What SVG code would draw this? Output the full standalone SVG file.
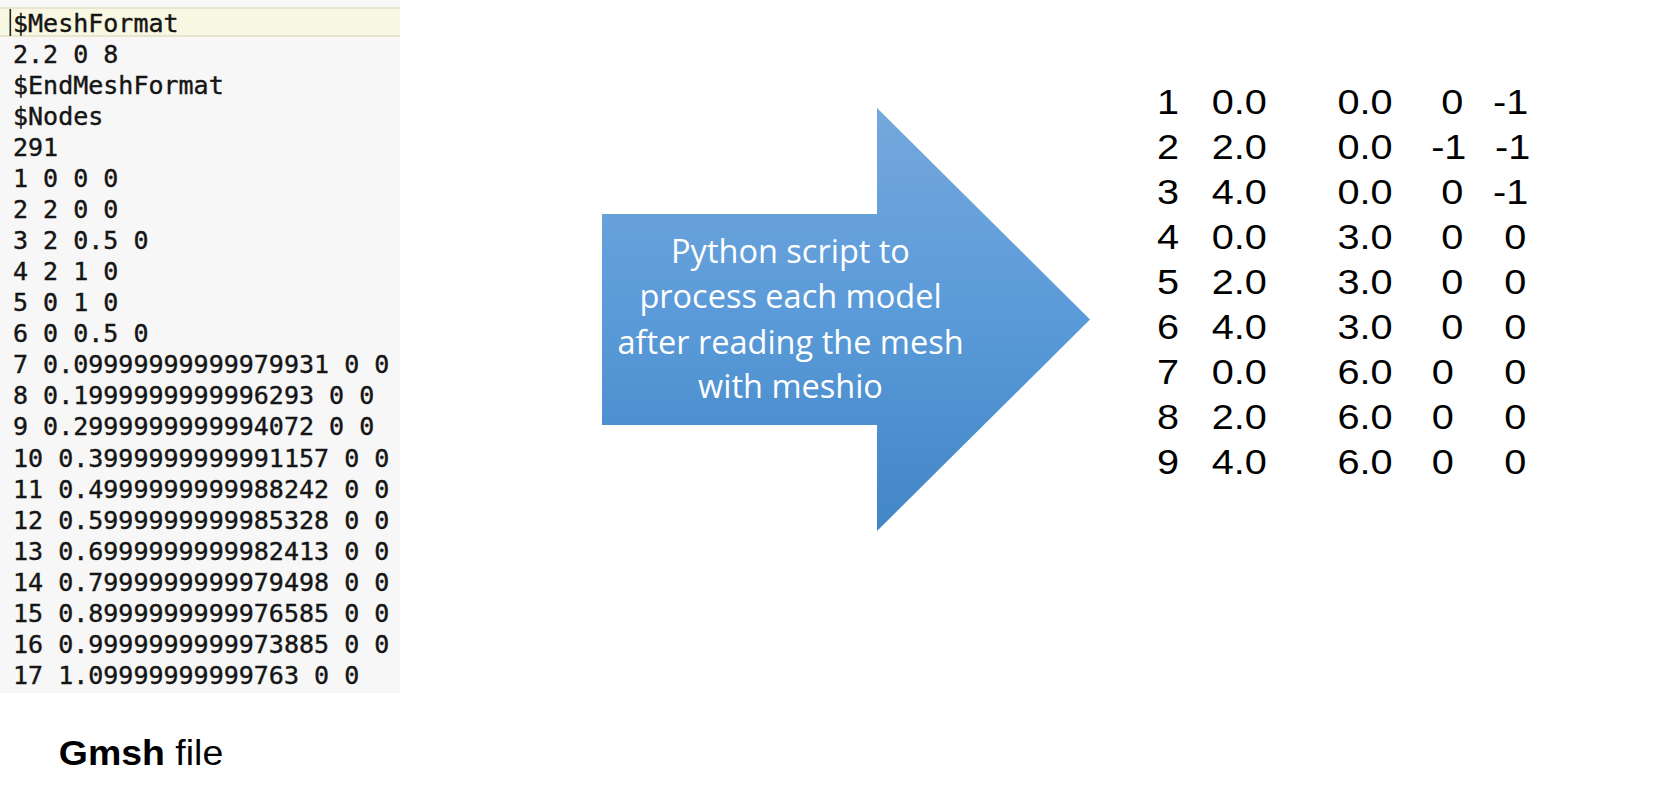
<svg xmlns="http://www.w3.org/2000/svg" width="1672" height="797" viewBox="0 0 1672 797">
  <style>
    .mono { font-family: "DejaVu Sans Mono", "Liberation Mono", monospace; font-size: 25px; fill: #151515; stroke: #151515; stroke-width: 0.4px; }
    .arrowtxt { font-family: "Open Sans", "Noto Sans", sans-serif; font-size: 32.5px; fill: #ffffff; text-anchor: middle; }
    .tbl { font-family: "Liberation Sans", Arial, sans-serif; font-size: 34.5px; fill: #000000; }
    .cap { font-family: "Liberation Sans", Arial, sans-serif; font-size: 35px; fill: #000000; }
  </style>
  <defs>
    <linearGradient id="arrowGrad" x1="0" y1="108" x2="0" y2="531" gradientUnits="userSpaceOnUse">
      <stop offset="0" stop-color="#74a8db"/>
      <stop offset="0.5" stop-color="#5a9ad9"/>
      <stop offset="1" stop-color="#4186c5"/>
    </linearGradient>
  </defs>
  <rect width="1672" height="797" fill="#ffffff"/>

  <g id="gmsh-file">
    <rect x="0" y="0" width="400" height="693" fill="#f7f7f7"/>
    <rect x="0" y="7" width="400" height="30" fill="#f8f8e2"/>
    <rect x="0" y="7" width="400" height="2" fill="#e5e5d0"/>
    <rect x="0" y="35" width="400" height="2" fill="#e5e5d0"/>
    <rect x="9.5" y="9" width="1.6" height="27" fill="#222222"/>
    <text class="mono" x="13" y="32">$MeshFormat</text>
    <text class="mono" x="13" y="63">2.2 0 8</text>
    <text class="mono" x="13" y="94">$EndMeshFormat</text>
    <text class="mono" x="13" y="125">$Nodes</text>
    <text class="mono" x="13" y="156">291</text>
    <text class="mono" x="13" y="187">1 0 0 0</text>
    <text class="mono" x="13" y="218">2 2 0 0</text>
    <text class="mono" x="13" y="249">3 2 0.5 0</text>
    <text class="mono" x="13" y="280">4 2 1 0</text>
    <text class="mono" x="13" y="311">5 0 1 0</text>
    <text class="mono" x="13" y="342">6 0 0.5 0</text>
    <text class="mono" x="13" y="373">7 0.09999999999979931 0 0</text>
    <text class="mono" x="13" y="404">8 0.1999999999996293 0 0</text>
    <text class="mono" x="13" y="435">9 0.2999999999994072 0 0</text>
    <text class="mono" x="13" y="467">10 0.3999999999991157 0 0</text>
    <text class="mono" x="13" y="498">11 0.4999999999988242 0 0</text>
    <text class="mono" x="13" y="529">12 0.5999999999985328 0 0</text>
    <text class="mono" x="13" y="560">13 0.6999999999982413 0 0</text>
    <text class="mono" x="13" y="591">14 0.7999999999979498 0 0</text>
    <text class="mono" x="13" y="622">15 0.8999999999976585 0 0</text>
    <text class="mono" x="13" y="653">16 0.9999999999973885 0 0</text>
    <text class="mono" x="13" y="684">17 1.09999999999763 0 0</text>
  </g>

  <g id="caption" transform="matrix(1.07 0 0 1 0 0)">
    <text class="cap" x="55" y="765"><tspan font-weight="bold">Gmsh</tspan> file</text>
  </g>

  <g id="process-arrow">
    <polygon points="602,214 877,214 877,108 1090,319.5 877,531 877,425 602,425" fill="url(#arrowGrad)"/>
    <text class="arrowtxt" x="790.5" y="263">Python script to</text>
    <text class="arrowtxt" x="790.5" y="308">process each model</text>
    <text class="arrowtxt" x="790.5" y="354">after reading the mesh</text>
    <text class="arrowtxt" x="790.5" y="398">with meshio</text>
  </g>

  <g id="node-table" transform="matrix(1.15 0 0 1 0 0)">
    <text class="tbl" x="1006.1" y="114.5">1</text>
    <text class="tbl" x="1006.1" y="159.5">2</text>
    <text class="tbl" x="1006.1" y="204.5">3</text>
    <text class="tbl" x="1006.1" y="249.5">4</text>
    <text class="tbl" x="1006.1" y="294.5">5</text>
    <text class="tbl" x="1006.1" y="339.5">6</text>
    <text class="tbl" x="1006.1" y="384.5">7</text>
    <text class="tbl" x="1006.1" y="429.5">8</text>
    <text class="tbl" x="1006.1" y="474.5">9</text>

    <text class="tbl" x="1053.6" y="114.5">0.0</text>
    <text class="tbl" x="1053.6" y="159.5">2.0</text>
    <text class="tbl" x="1053.6" y="204.5">4.0</text>
    <text class="tbl" x="1053.6" y="249.5">0.0</text>
    <text class="tbl" x="1053.6" y="294.5">2.0</text>
    <text class="tbl" x="1053.6" y="339.5">4.0</text>
    <text class="tbl" x="1053.6" y="384.5">0.0</text>
    <text class="tbl" x="1053.6" y="429.5">2.0</text>
    <text class="tbl" x="1053.6" y="474.5">4.0</text>

    <text class="tbl" x="1163.1" y="114.5">0.0</text>
    <text class="tbl" x="1163.1" y="159.5">0.0</text>
    <text class="tbl" x="1163.1" y="204.5">0.0</text>
    <text class="tbl" x="1163.1" y="249.5">3.0</text>
    <text class="tbl" x="1163.1" y="294.5">3.0</text>
    <text class="tbl" x="1163.1" y="339.5">3.0</text>
    <text class="tbl" x="1163.1" y="384.5">6.0</text>
    <text class="tbl" x="1163.1" y="429.5">6.0</text>
    <text class="tbl" x="1163.1" y="474.5">6.0</text>

    <text class="tbl" x="1253.3" y="114.5">0</text>
    <text class="tbl" x="1244.5" y="159.5">-1</text>
    <text class="tbl" x="1253.3" y="204.5">0</text>
    <text class="tbl" x="1253.3" y="249.5">0</text>
    <text class="tbl" x="1253.3" y="294.5">0</text>
    <text class="tbl" x="1253.3" y="339.5">0</text>
    <text class="tbl" x="1244.9" y="384.5">0</text>
    <text class="tbl" x="1244.9" y="429.5">0</text>
    <text class="tbl" x="1244.9" y="474.5">0</text>

    <text class="tbl" x="1298.3" y="114.5">-1</text>
    <text class="tbl" x="1300" y="159.5">-1</text>
    <text class="tbl" x="1298.3" y="204.5">-1</text>
    <text class="tbl" x="1308.1" y="249.5">0</text>
    <text class="tbl" x="1308.1" y="294.5">0</text>
    <text class="tbl" x="1308.1" y="339.5">0</text>
    <text class="tbl" x="1308.1" y="384.5">0</text>
    <text class="tbl" x="1308.1" y="429.5">0</text>
    <text class="tbl" x="1308.1" y="474.5">0</text>
  </g>
</svg>
